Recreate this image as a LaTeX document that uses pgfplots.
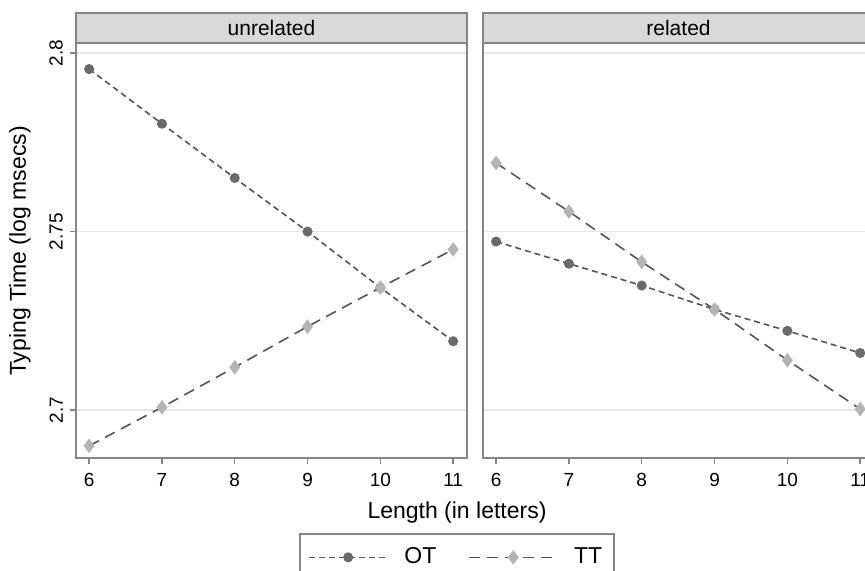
\documentclass[border=0pt]{standalone}
\usepackage{pgfplots}
\pgfplotsset{compat=1.18}
\usepackage{fontspec}
\setmainfont{Liberation Sans}
\definecolor{framegray}{HTML}{858585}
\definecolor{stripgray}{HTML}{D9D9D9}
\definecolor{gridgray}{HTML}{E6E6E6}
\definecolor{linegray}{HTML}{555555}
\definecolor{otgray}{HTML}{6A6A6A}
\definecolor{ttgray}{HTML}{B4B4B4}

\pgfplotstableread{
x y
6 2.7955
7 2.7802
8 2.7650
9 2.7500
10 2.7343
11 2.7193
}\unrelOT
\pgfplotstableread{
x y
6 2.6900
7 2.7008
8 2.7120
9 2.7234
10 2.7343
11 2.7450
}\unrelTT
\pgfplotstableread{
x y
6 2.7472
7 2.7410
8 2.7349
9 2.7282
10 2.7222
11 2.7160
}\relOT
\pgfplotstableread{
x y
6 2.7692
7 2.7556
8 2.7415
9 2.7282
10 2.7140
11 2.7003
}\relTT

\pgfplotsset{
  otlegend/.style={legend image code/.code={%
    \draw[mark repeat=2,mark phase=2,##1] plot coordinates {(0pt,0pt) (19.75pt,0pt) (39.5pt,0pt)};}},
  ttlegend/.style={legend image code/.code={%
    \draw[mark repeat=2,mark phase=2,##1] plot coordinates {(0pt,0pt) (22pt,0pt) (44pt,0pt)};}},
}

\begin{document}
\begin{tikzpicture}
\useasboundingbox (0pt,0pt) rectangle (432.5pt,285.5pt);
\pgfplotsset{
  panel/.style={
    anchor=south west, width=195.5pt, height=207.5pt, scale only axis,
    xmin=5.82, xmax=11.19, ymin=2.6866, ymax=2.8028,
    xtick={6,7,8,9,10,11}, ytick={2.7,2.75,2.8},
    yticklabels={2.7,2.75,2.8},
    ymajorgrids, grid style={color=gridgray, line width=0.7pt},
    axis line style={framegray, line width=0.9pt},
    tick style={framegray, line width=0.7pt}, tick align=outside,
    major tick length=3pt,
    xtick pos=bottom, ytick pos=left,
    tick label style={font=\fontsize{9.5}{11}\selectfont},
    x tick label style={yshift=-1pt},
    /pgf/number format/assume math mode=true,
    clip=false,
  },
  otstyle/.style={linegray, line width=0.8pt, dash pattern=on 3pt off 2pt,
    mark=*, mark size=2.1pt, mark options={solid, fill=otgray, draw=otgray}},
  ttstyle/.style={linegray, line width=0.8pt, dash pattern=on 5.5pt off 3.5pt,
    mark=diamond*, mark size=3pt, mark options={solid, fill=ttgray, draw=ttgray}},
}
\begin{axis}[panel, at={(38pt,56.5pt)},
  y tick label style={rotate=90, anchor=south, xshift=0pt},
  legend columns=2,
  legend style={at={(0.9744,-0.1807)}, anchor=north, draw=framegray, line width=0.8pt,
    font=\fontsize{11.5}{13}\selectfont, inner xsep=4pt, inner ysep=5pt,
    /tikz/every odd column/.append style={column sep=6pt},
    /tikz/every even column/.append style={column sep=14pt}},
]
\addplot[otstyle, otlegend] table {\unrelOT};
\addlegendentry{OT}
\addplot[ttstyle, ttlegend] table {\unrelTT};
\addlegendentry{TT}
\draw[framegray, fill=stripgray, line width=0.9pt] (rel axis cs:0,1) rectangle ([yshift=15pt]rel axis cs:1,1);
\node[font=\fontsize{10.5}{12}\selectfont] at ([yshift=7.5pt]rel axis cs:0.5,1) {unrelated};
\end{axis}
\begin{axis}[panel, at={(241.5pt,56.5pt)},
  yticklabels={}, ytick style={draw=none},
]
\addplot[otstyle] table {\relOT};
\addplot[ttstyle] table {\relTT};
\draw[framegray, fill=stripgray, line width=0.9pt] (rel axis cs:0,1) rectangle ([yshift=15pt]rel axis cs:1,1);
\node[font=\fontsize{10.5}{12}\selectfont] at ([yshift=7.5pt]rel axis cs:0.5,1) {related};
\end{axis}
\node[font=\fontsize{11.5}{13}\selectfont] at (228.5pt,29pt) {Length (in letters)};
\node[rotate=90, font=\fontsize{11.5}{13}\selectfont] at (10pt,160pt) {Typing Time (log msecs)};
\end{tikzpicture}
\end{document}
